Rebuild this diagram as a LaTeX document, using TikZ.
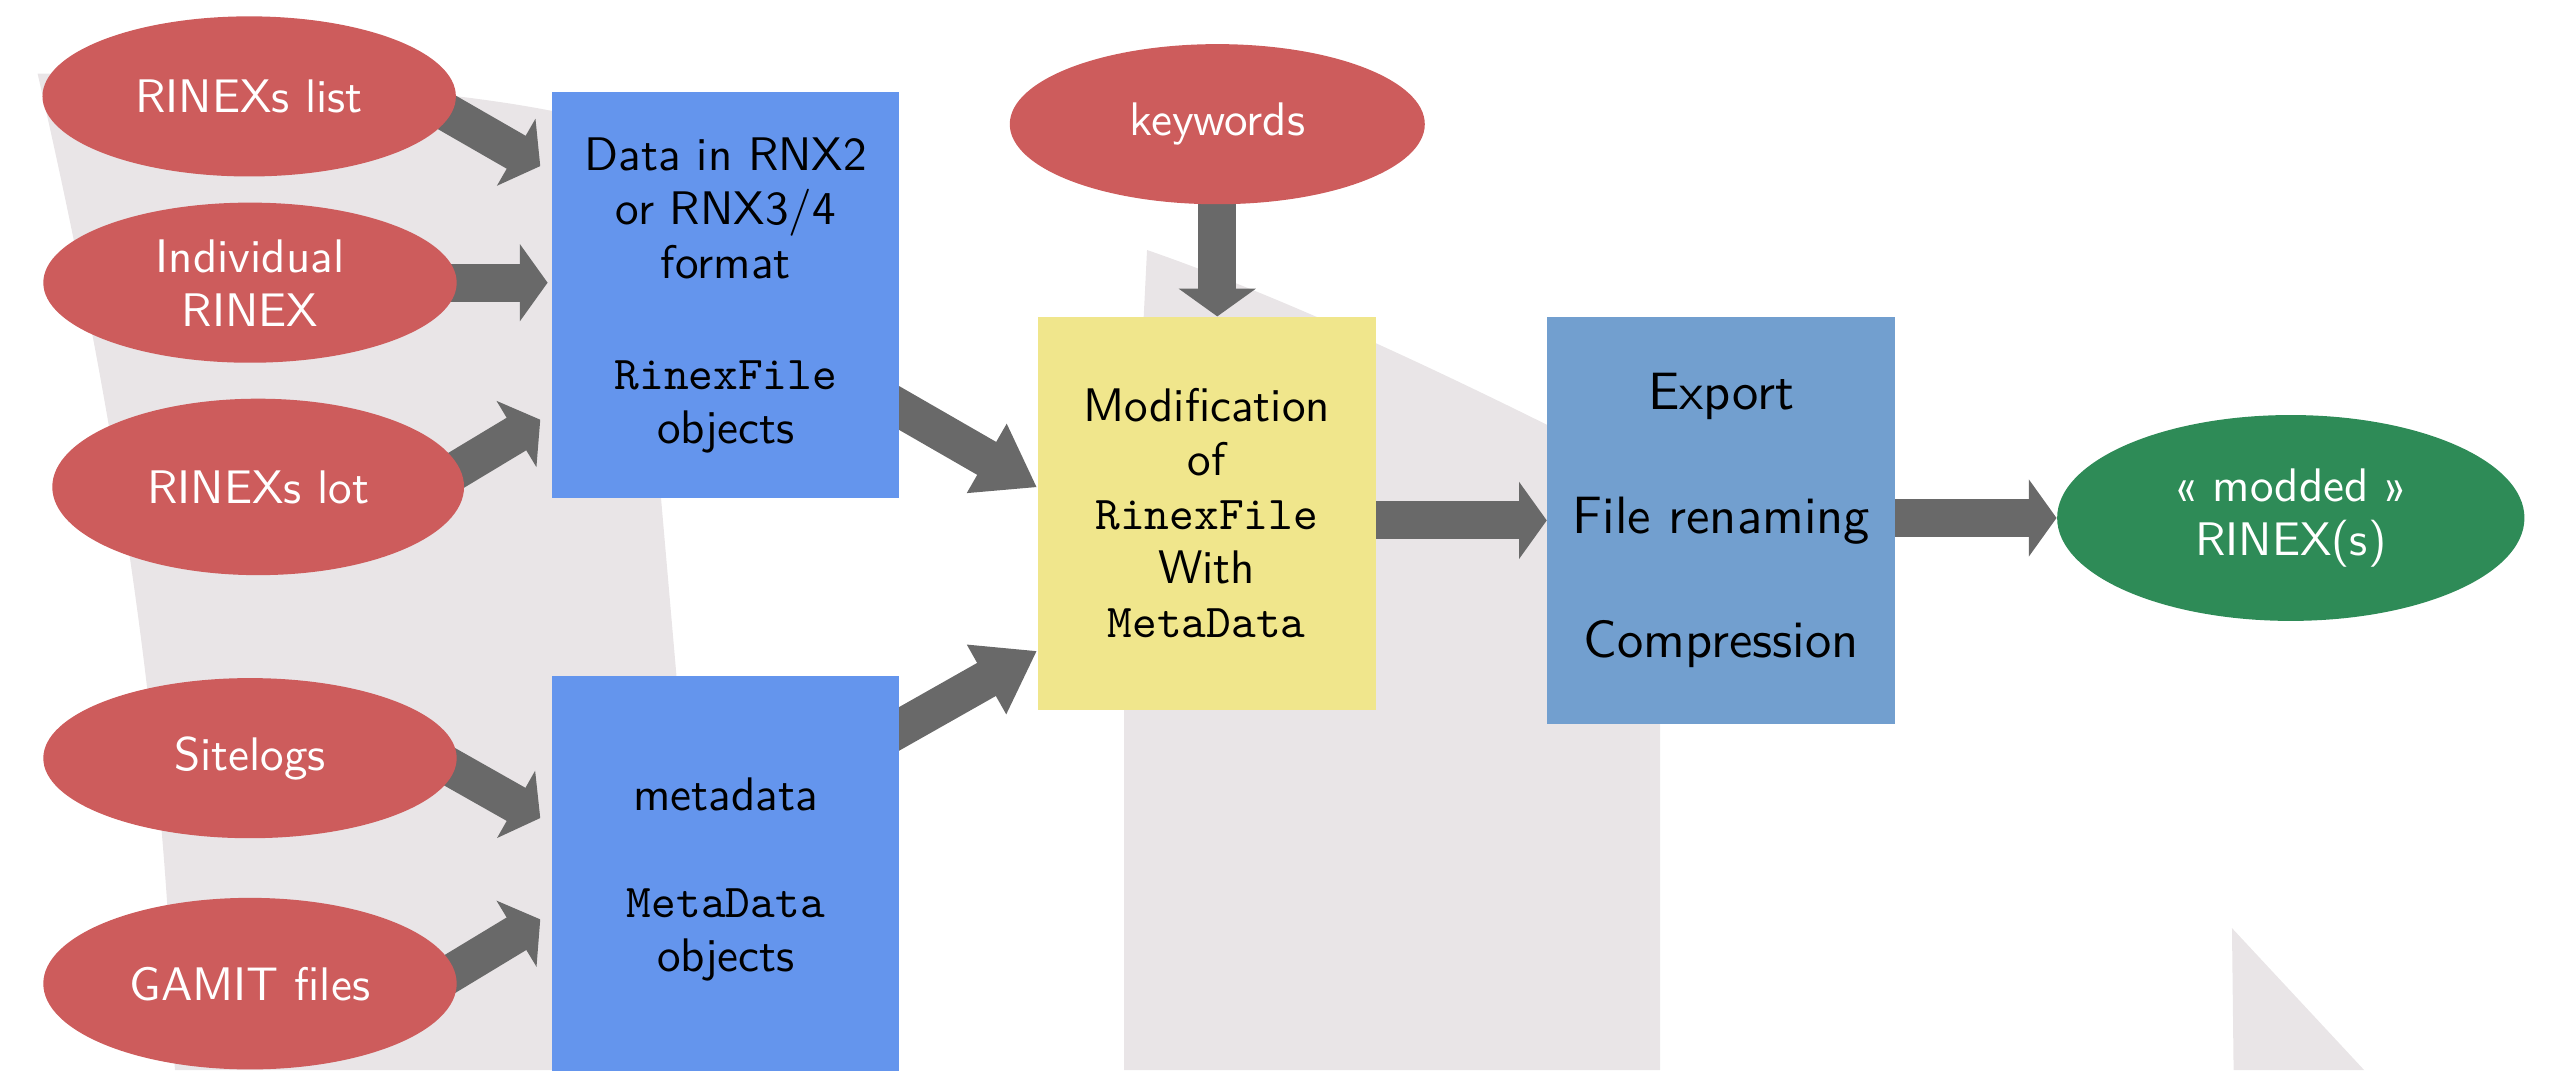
\documentclass[tikz,border=0pt]{standalone}
\usepackage{fontspec}
\setsansfont{lmsans10-regular.otf}
\setmonofont{lmmono10-regular.otf}
\usepackage{tikz}
\usetikzlibrary{arrows.meta,shapes.geometric,backgrounds,calc}

\definecolor{srcred}{HTML}{CD5C5C}
\definecolor{datablue}{HTML}{6495ED}
\definecolor{modkhaki}{HTML}{F0E68C}
\definecolor{expblue}{HTML}{729FCF}
\definecolor{outgreen}{HTML}{2E8B57}
\definecolor{flowgray}{HTML}{696969}
\definecolor{shadegray}{HTML}{E9E5E7}

\begin{document}
\begin{tikzpicture}[
  every node/.style={font=\sffamily\fontsize{16.4}{18.8}\selectfont},
  source/.style={ellipse, fill=srcred, text=white, inner sep=0pt, align=center,
    minimum width=5.06cm, minimum height=1.96cm},
  stage/.style={rectangle, inner sep=0pt, align=center,
    minimum width=4.25cm, minimum height=4.97cm},
  flow/.style={draw=flowgray, line width=0.465cm,
    -{Triangle[length=0.34cm,width=0.93cm]}},
  longflow/.style={flow, -{Triangle[length=0.71cm,width=0.93cm]}}
]
 \useasboundingbox (0,0) rectangle (31.36,-13.1);

 % inputs
 \node[source] (rnxlist) at (3.05,-1.18) {RINEXs list};
 \node[source] (rnxone) at (3.06,-3.46) {Individual\\RINEX};
 \node[source, minimum width=5.04cm, minimum height=2.16cm] (rnxlot) at (3.16,-5.96) {RINEXs lot};
 \node[source] (sitelogs) at (3.06,-9.28) {Sitelogs};
 \node[source, minimum height=2.1cm] (gamit) at (3.06,-12.04) {GAMIT files};
 \node[source, minimum width=5.08cm] (keywords) at (14.9,-1.52) {keywords};

 % processing
 \node[stage, fill=datablue] (rnxdata) at (8.885,-3.615)
  {Data in RNX2\\or RNX3/4\\format\\[0.7cm]\texttt{RinexFile}\\objects};
 \node[stage, fill=datablue] (mdata) at (8.885,-10.765)
  {metadata\\[0.66cm]\texttt{MetaData}\\objects};
 \node[stage, fill=modkhaki, minimum width=4.14cm, minimum height=4.81cm] (modif) at (14.77,-6.285)
  {Modification\\of\\\texttt{RinexFile}\\With\\\texttt{MetaData}};
 \node[stage, fill=expblue, minimum width=4.26cm, minimum height=4.98cm,
  font=\sffamily\fontsize{18.3}{21.6}\selectfont] (export) at (21.07,-6.37)
  {Export\\[0.76cm]File renaming\\[0.76cm]Compression};

 % output
 \node[source, fill=outgreen, minimum width=5.72cm, minimum height=2.52cm] (modded) at (28.04,-6.34)
  {« modded »\\RINEX(s)};

 \begin{scope}[on background layer]
  % shaded letters behind
  \fill[shadegray] (0.46,-0.9) .. controls (4,-0.96) and (6.4,-1.16) .. (7.7,-1.6)
   -- (8.7,-13.1) -- (2.14,-13.1) .. controls (2.04,-9) and (1.4,-5) .. cycle;
  \fill[shadegray] (14.04,-3.06) .. controls (15.6,-3.6) and (17.6,-4.5) .. (20.32,-5.9)
   -- (20.32,-13.1) -- (13.76,-13.1) -- (13.76,-8.68) -- cycle;
  \fill[shadegray] (27.32,-11.36) -- (27.34,-13.1) -- (28.94,-13.1) -- cycle;

  \draw[flow] ([shift={(2.01,0.04)}]rnxlist.center) -- ([shift={(-0.14,-0.91)}]rnxdata.north west);
  \draw[flow] (rnxone.center) -- ([xshift=-0.05cm]rnxone.center -| rnxdata.west);
  \draw[flow] ([shift={(1.92,-0.1)}]rnxlot.center) -- ([shift={(-0.14,0.97)}]rnxdata.south west);
  \draw[flow] ([shift={(2.01,0.14)}]sitelogs.center) -- ([shift={(-0.14,-1.74)}]mdata.north west);
  \draw[flow] ([shift={(2.02,-0.14)}]gamit.center) -- ([shift={(-0.14,-2.98)}]mdata.north west);

  \draw[longflow] ([shift={(-0.4,-1.155)}]rnxdata.east) -- ([yshift=0.32cm]modif.west);
  \draw[longflow] ([shift={(-0.42,-0.88)}]mdata.north east) -- ([yshift=0.73cm]modif.south west);
  \draw[flow] (keywords.center) -- (keywords.center |- modif.north);

  \draw[flow] (modif.center |- export.west) -- (export.west);
  \draw[flow] (export.center |- modded.west) -- (modded.west);
 \end{scope}
\end{tikzpicture}
\end{document}
